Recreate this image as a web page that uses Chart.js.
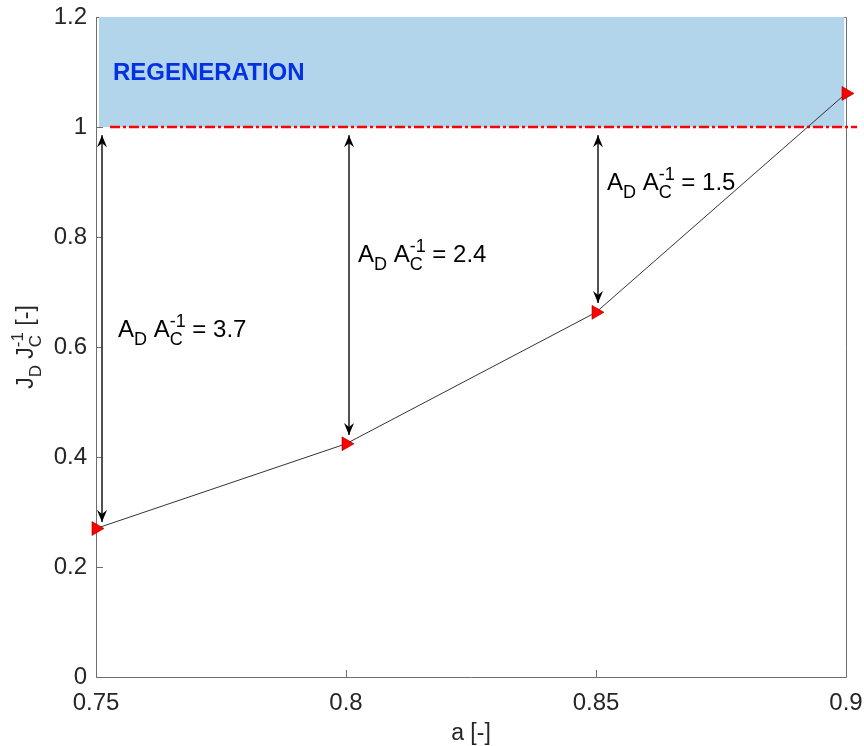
<!DOCTYPE html>
<html>
<head>
<meta charset="utf-8">
<script src="https://cdn.jsdelivr.net/npm/chart.js@4/dist/chart.umd.min.js"></script>
<style>
  html, body { margin: 0; padding: 0; background: #ffffff; }
  #wrap { width: 864px; height: 746px; }
</style>
</head>
<body>
<div id="wrap"><canvas id="c" width="864" height="746"></canvas></div>
<script>
// ---- data ----
const aValues = [0.75, 0.8, 0.85, 0.9];
const ratioValues = [0.27, 0.424, 0.663, 1.061];
const xTickValues = [0.75, 0.8, 0.85, 0.9];
const yTickValues = [0, 0.2, 0.4, 0.6, 0.8, 1, 1.2];
const thresholdLine = { x: [0.7528, 0.9022], y: 1 };
const regenBand = { x: [0.7506, 0.8997], low: 1, high: 1.2 };
const arrowX = [0.7512, 0.8006, 0.8504];
const arrowTop = [0.985, 0.985, 0.985];
const arrowBottom = [0.282, 0.44, 0.68];
const areaRatioLabels = ['3.7', '2.4', '1.5'];
const labelAnchorX = [0.7544, 0.8024, 0.8522];
const labelAnchorY = [0.618, 0.7545, 0.8855];

const FONT = '"Liberation Sans", Arial, Helvetica, sans-serif';
const BIG = 24, SMALL = 18;

function drawRich(ctx, x, y, parts, big, small) {
  let cx = x;
  const mf = big + 'px ' + FONT, sf = small + 'px ' + FONT;
  for (const p of parts) {
    const [t, k] = p;
    if (k === 'n') {
      ctx.font = mf; ctx.fillText(t, cx, y); cx += ctx.measureText(t).width;
    } else if (k === 'sub') {
      ctx.font = sf; ctx.fillText(t, cx, y + 8); cx += ctx.measureText(t).width;
    } else if (k === 'subsup') {
      ctx.font = sf;
      ctx.fillText(t[0], cx, y + 8);
      ctx.fillText(t[1], cx, y - 10);
      cx += Math.max(ctx.measureText(t[0]).width, ctx.measureText(t[1]).width);
    }
  }
  return cx - x;
}
function richWidth(ctx, parts, big, small) {
  let w = 0;
  const mf = big + 'px ' + FONT, sf = small + 'px ' + FONT;
  for (const p of parts) {
    const [t, k] = p;
    if (k === 'n') { ctx.font = mf; w += ctx.measureText(t).width; }
    else if (k === 'sub') { ctx.font = sf; w += ctx.measureText(t).width; }
    else { ctx.font = sf; w += Math.max(ctx.measureText(t[0]).width, ctx.measureText(t[1]).width); }
  }
  return w;
}

const decor = {
  id: 'decor',
  beforeDatasetsDraw(chart) {
    const { ctx, chartArea: a, scales: { x, y } } = chart;
    ctx.save();
    ctx.strokeStyle = '#6e6e6e';
    ctx.lineWidth = 1;
    ctx.beginPath();
    ctx.moveTo(Math.round(a.left) + 0.5, Math.round(a.top) + 0.5);
    ctx.lineTo(Math.round(a.right) + 0.5, Math.round(a.top) + 0.5);
    ctx.lineTo(Math.round(a.right) + 0.5, Math.round(a.bottom) + 0.5);
    ctx.lineTo(Math.round(a.left) + 0.5, Math.round(a.bottom) + 0.5);
    ctx.closePath();
    ctx.stroke();
    ctx.beginPath();
    for (const v of xTickValues) {
      const px = Math.round(x.getPixelForValue(v)) + 0.5;
      ctx.moveTo(px, a.bottom); ctx.lineTo(px, a.bottom - 7);
    }
    for (const v of yTickValues) {
      const py = Math.round(y.getPixelForValue(v)) + 0.5;
      ctx.moveTo(a.left, py); ctx.lineTo(a.left + 7, py);
    }
    ctx.stroke();
    ctx.restore();
  },
  afterDatasetsDraw(chart) {
    const { ctx, chartArea: a, scales: { x, y } } = chart;
    ctx.save();
    ctx.fillStyle = '#000000';
    function head(px, py, dir) {
      ctx.beginPath();
      ctx.moveTo(px, py);
      ctx.lineTo(px - 5, py + dir * 12);
      ctx.lineTo(px, py + dir * 8);
      ctx.lineTo(px + 5, py + dir * 12);
      ctx.closePath();
      ctx.fill();
    }
    for (let i = 0; i < arrowX.length; i++) {
      const px = x.getPixelForValue(arrowX[i]);
      head(px, y.getPixelForValue(arrowTop[i]), 1);
      head(px, y.getPixelForValue(arrowBottom[i]), -1);
    }
    ctx.fillStyle = '#000000';
    ctx.textBaseline = 'alphabetic';
    ctx.textAlign = 'left';
    for (let i = 0; i < areaRatioLabels.length; i++) {
      drawRich(ctx, x.getPixelForValue(labelAnchorX[i]), y.getPixelForValue(labelAnchorY[i]),
        [['A', 'n'], ['D', 'sub'], [' ', 'n'], ['A', 'n'], [['C', '-1'], 'subsup'], [' = ' + areaRatioLabels[i], 'n']], BIG, SMALL);
    }
    ctx.fillStyle = '#0432e0';
    ctx.font = 'bold 24px ' + FONT;
    ctx.fillText('REGENERATION', x.getPixelForValue(0.7534), y.getPixelForValue(1.0855));
    ctx.fillStyle = '#262626';
    ctx.font = '23px ' + FONT;
    ctx.textAlign = 'center';
    ctx.fillText('a [-]', (a.left + a.right) / 2, 740);
    const yparts = [['J', 'n'], ['D', 'sub'], [' ', 'n'], ['J', 'n'], [['C', '-1'], 'subsup'], [' [-]', 'n']];
    ctx.textAlign = 'left';
    const w = richWidth(ctx, yparts, 23, 17);
    ctx.translate(33, (a.top + a.bottom) / 2);
    ctx.rotate(-Math.PI / 2);
    drawRich(ctx, -w / 2, 0, yparts, 23, 17);
    ctx.restore();
  }
};

const arrowSets = arrowX.map((ax, i) => ({
  data: [{ x: ax, y: arrowTop[i] }, { x: ax, y: arrowBottom[i] }],
  showLine: true, borderColor: '#3a3a3a', borderWidth: 1, pointRadius: 0, clip: false, order: 3
}));

new Chart(document.getElementById('c'), {
  type: 'scatter',
  data: {
    datasets: [
      {
        data: [{ x: regenBand.x[0], y: regenBand.high }, { x: regenBand.x[1], y: regenBand.high }],
        showLine: true, borderWidth: 0, borderColor: 'rgba(0,0,0,0)', pointRadius: 0,
        fill: { value: regenBand.low }, backgroundColor: 'rgb(179,213,235)', order: 5
      },
      {
        data: thresholdLine.x.map(v => ({ x: v, y: thresholdLine.y })),
        showLine: true, borderColor: '#ff0000', borderWidth: 2.5, borderDash: [10, 3, 3, 3],
        pointRadius: 0, clip: false, order: 4
      },
      ...arrowSets,
      {
        data: aValues.map((v, i) => ({ x: v, y: ratioValues[i] })),
        showLine: true, borderColor: '#333333', borderWidth: 1,
        pointStyle: 'triangle', rotation: 90, pointRadius: 8,
        pointBackgroundColor: '#ff0000', pointBorderColor: '#8a0000', pointBorderWidth: 0.6,
        clip: false, order: 1
      }
    ]
  },
  options: {
    responsive: false,
    animation: false,
    devicePixelRatio: 1,
    layout: { padding: { top: 17, right: 18, left: 0, bottom: 0 } },
    plugins: { legend: { display: false }, tooltip: { enabled: false } },
    scales: {
      x: {
        type: 'linear', min: 0.75, max: 0.9,
        afterBuildTicks: s => { s.ticks = xTickValues.map(v => ({ value: v })); },
        afterFit: s => { s.height = 69; s.paddingLeft = 0; s.paddingRight = 0; },
        grid: { display: false, drawTicks: false },
        border: { display: false },
        ticks: { color: '#262626', font: { family: FONT, size: 24 }, padding: 12, maxRotation: 0, autoSkip: false,
          callback: v => String(v) }
      },
      y: {
        type: 'linear', min: 0, max: 1.2,
        afterBuildTicks: s => { s.ticks = yTickValues.map(v => ({ value: v })); },
        afterFit: s => { s.width = 96; s.paddingTop = 0; s.paddingBottom = 0; },
        grid: { display: false, drawTicks: false },
        border: { display: false },
        ticks: { color: '#262626', font: { family: FONT, size: 24 }, padding: 9, autoSkip: false,
          callback: v => String(v) }
      }
    }
  },
  plugins: [decor]
});
</script>
</body>
</html>
